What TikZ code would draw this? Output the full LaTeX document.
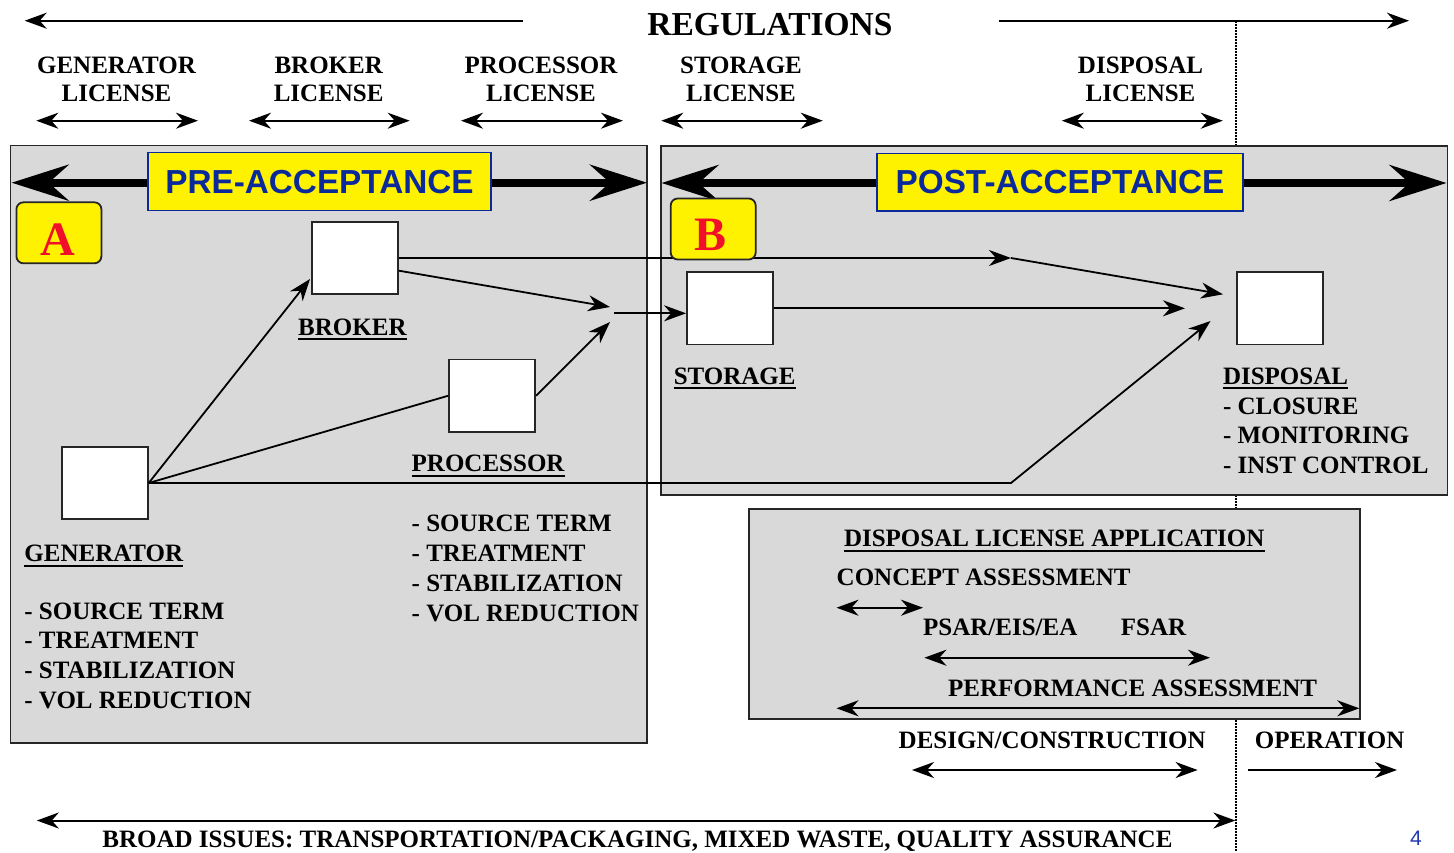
\documentclass[tikz,border=0pt]{standalone}
\usepackage{fontspec}
\setmainfont{Liberation Serif}
\newfontfamily\dgSans{Liberation Sans}
\usetikzlibrary{arrows.meta}

\definecolor{panelgray}{HTML}{D9D9D9}
\definecolor{frame}{HTML}{262626}
\definecolor{tagblue}{HTML}{0A2A9C}
\definecolor{tagred}{HTML}{F0102A}
\definecolor{pageblue}{HTML}{2238B0}

\newcommand{\dgBody}{\fontsize{25}{30}\selectfont\bfseries}
\newcommand{\dgHead}{\fontsize{33.5}{40}\selectfont\bfseries}
\newcommand{\dgTag}{\dgSans\fontsize{33.3}{40}\selectfont\bfseries}
\newcommand{\dgLetter}{\fontsize{48}{56}\selectfont\bfseries}
\newcommand{\dgPage}{\dgSans\fontsize{21}{25}\selectfont}

\begin{document}
\begin{tikzpicture}[x=1pt,y=-1pt,
  every node/.style={inner sep=0pt},
  >={Stealth[length=22pt,width=16pt,inset=7pt]},
  txt/.style={anchor=base west, font=\dgBody},
  ctxt/.style={anchor=base, font=\dgBody},
  link/.style={draw=black, line width=1.8pt},
  span/.style={line width=2pt, <->},
  ray/.style={line width=2pt, ->},
  bigspan/.style={line width=8pt, {Stealth[length=57pt,width=36pt,inset=20pt]}-{Stealth[length=57pt,width=36pt,inset=20pt]}},
  panel/.style={fill=panelgray, draw=frame, line width=1.8pt},
  unit/.style={draw=frame, fill=white, line width=1.8pt, minimum width=86, minimum height=72.5},
  tag/.style={fill=yellow, draw=tagblue, line width=1.2pt, text=tagblue, font=\dgTag},
  letterbox/.style={fill=yellow, draw=frame, line width=1.8pt, rounded corners=7pt, minimum width=85, minimum height=61},
  letter/.style={anchor=base, text=tagred, font=\dgLetter},
  uline/.style={line width=1.8pt}]

\useasboundingbox (0,0) rectangle (1454,852);

% time boundary between licensing and operation
\draw[line width=1.4pt, dash pattern=on 1.5pt off 1.5pt] (1236,21) -- (1236,852);

% regulations banner
\node[anchor=base, font=\dgHead] (reg) at (770,35) {REGULATIONS};
\draw[ray] (523,20.7) -- (24.7,20.7);
\draw[ray] (998.7,20.7) -- (1409,20.7);

% licences
\node[ctxt] (liGenA) at (116.5,73.3) {GENERATOR};
\node[ctxt] (liGenB) at (116.5,101.7) {LICENSE};
\node[ctxt] (liBroA) at (328.7,73.3) {BROKER};
\node[ctxt] (liBroB) at (328.7,101.7) {LICENSE};
\node[ctxt] (liProA) at (541,73.3) {PROCESSOR};
\node[ctxt] (liProB) at (541,101.7) {LICENSE};
\node[ctxt] (liStoA) at (741,73.3) {STORAGE};
\node[ctxt] (liStoB) at (741,101.7) {LICENSE};
\node[ctxt] (liDisA) at (1140.5,73.3) {DISPOSAL};
\node[ctxt] (liDisB) at (1140.5,101.7) {LICENSE};
\draw[span] (36.3,120.7) -- (198,120.7);
\draw[span] (249,120.7) -- (409.7,120.7);
\draw[span] (461,120.7) -- (623,120.7);
\draw[span] (661.3,120.7) -- (822.8,120.7);
\draw[span] (1061.8,120.7) -- (1222.8,120.7);

% panels
\draw[panel] (10.5,145.5) rectangle (647,743.3);
\draw[panel] (661.3,145.7) rectangle (1447.4,495);
\draw[panel] (749,509) rectangle (1360,719.3);

% phase arrows and titles
\draw[bigspan] (11.6,182.7) -- (647,182.7);
\draw[bigspan] (661.5,183) -- (1446.5,183);
\node[tag, minimum width=343, minimum height=58] (pre) at (319.5,181.7) {PRE-ACCEPTANCE};
\node[tag, minimum width=366, minimum height=57.7] (post) at (1060,182.2) {POST-ACCEPTANCE};

% facilities
\node[unit] (gen) at (104.8,483) {};
\node[unit] (bro) at (355,258) {};
\node[unit] (pro) at (492.2,395.7) {};
\node[unit] (sto) at (730,308.3) {};
\node[unit] (dis) at (1280,308.3) {};

% flows between facilities
\coordinate (bkTip) at (310,279);
\coordinate (mgA) at (610,307);
\coordinate (mgB) at (610,322);
\coordinate (mgO) at (614,313.3);
\coordinate (knee1) at (1011,258);
\coordinate (dsA) at (1223,294.3);
\coordinate (dsB) at (1185,308.3);
\coordinate (knee2) at (1011,483);
\coordinate (dsC) at (1210.5,321);
\draw[link,->] (gen.east) -- (bkTip);
\draw[link] (gen.east) -- (pro.west);
\draw[link,->] ([yshift=-12.7pt]bro.east) -- (mgA);
\draw[link,->] (pro.east) -- (mgB);
\draw[link,->] (mgO) -- (mgO -| sto.west);
\draw[link,->] (bro.east) -- (knee1);
\draw[link,->] (knee1) -- (dsA);
\draw[link,->] (sto.east) -- (dsB);
\draw[link,->] (gen.east) -- (knee2) -- (dsC);

% section letters
\node[letterbox] (boxA) at (58.9,232.8) {};
\node[letter] (letA) at (57.8,255) {A};
\node[letterbox] (boxB) at (713.2,229) {};
\node[letter] (letB) at (710.5,250.7) {B};

% facility names
\node[txt] (nmBro) at (298,335) {BROKER};
\node[txt] (nmPro) at (411.5,471.7) {PROCESSOR};
\node[txt] (nmGen) at (24.2,561.7) {GENERATOR};
\node[txt] (nmSto) at (673.6,384.3) {STORAGE};
\node[txt] (nmDis) at (1222.8,384.3) {DISPOSAL};
\foreach \n in {nmBro,nmPro,nmGen,nmSto,nmDis}
  \draw[uline] ([yshift=-4pt]\n.base west) -- ([yshift=-4pt]\n.base east);

% activity lists
\foreach \t [count=\i] in {SOURCE TERM,TREATMENT,STABILIZATION,VOL REDUCTION}{
  \node[txt] (genItem\i) at (24.2,{619+29.7*(\i-1)}) {- \t};
  \node[txt] (proItem\i) at (411.5,{531.7+30*(\i-1)}) {- \t};
}
\foreach \t [count=\i] in {CLOSURE,MONITORING,INST CONTROL}
  \node[txt] (disItem\i) at (1222.8,{414.3+29.5*(\i-1)}) {- \t};

% disposal licence application
\node[txt] (dla) at (843.8,546.7) {DISPOSAL LICENSE APPLICATION};
\draw[uline] ([yshift=-4pt]dla.base west) -- ([yshift=-4pt]dla.base east);
\node[txt] (concept) at (836.5,585) {CONCEPT ASSESSMENT};
\draw[span] (836.5,607.7) -- (923,607.7);
\node[txt] (psar) at (923,635) {PSAR/EIS/EA};
\node[txt] (fsar) at (1120.7,635) {FSAR};
\draw[span] (924.4,657.7) -- (1210,657.7);
\node[txt] (perf) at (948,696.7) {PERFORMANCE ASSESSMENT};
\draw[span] (836.5,708.3) -- (1359.3,708.3);

% project phases
\node[txt] (design) at (898.5,748.3) {DESIGN/CONSTRUCTION};
\node[txt] (oper) at (1254.6,748.3) {OPERATION};
\draw[span] (912,770) -- (1197.6,770);
\draw[ray] (1247.7,770) -- (1397,770);

% broad issues
\draw[span] (36.8,820.5) -- (1235.4,820.5);
\node[anchor=base, font=\dgBody] (broad) at (637.5,847) {BROAD ISSUES: TRANSPORTATION/PACKAGING, MIXED WASTE, QUALITY ASSURANCE};

\node[anchor=base, text=pageblue, font=\dgPage] (page) at (1416,845) {4};
\end{tikzpicture}
\end{document}
